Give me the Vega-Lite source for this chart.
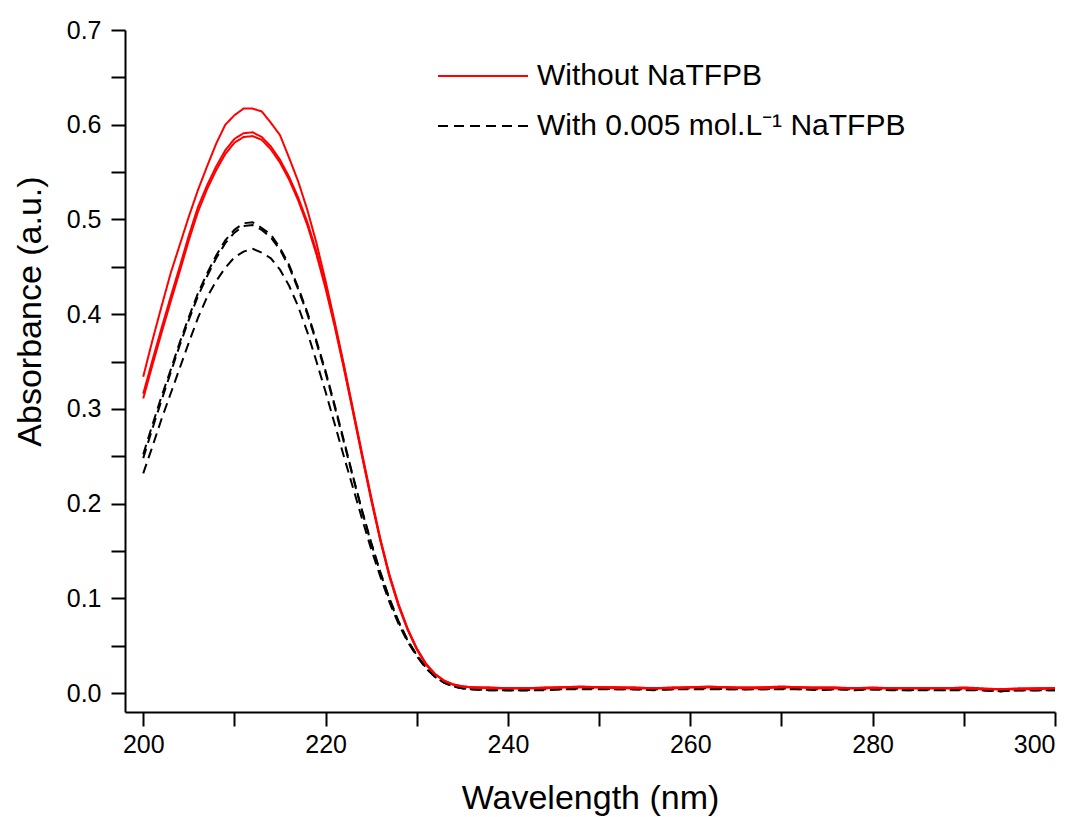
{
  "$schema": "https://vega.github.io/schema/vega-lite/v6.json",
  "width": 930,
  "height": 682,
  "autosize": {"type": "none"},
  "padding": {"left": 125, "top": 30, "right": 25, "bottom": 105},
  "background": "white",
  "config": {
    "view": {"stroke": null},
    "font": "Liberation Sans",
    "axis": {
      "grid": false,
      "domainColor": "black",
      "domainWidth": 2,
      "tickColor": "black",
      "tickWidth": 2,
      "tickSize": 14,
      "labelColor": "black",
      "labelFont": "Liberation Sans",
      "labelFontSize": 25,
      "titleFont": "Liberation Sans",
      "titleFontSize": 34,
      "titleFontWeight": "normal",
      "titleColor": "black"
    }
  },
  "datasets": {
    "groups": [
      {"series": "r1", "group": "Without NaTFPB"},
      {"series": "r2", "group": "Without NaTFPB"},
      {"series": "r3", "group": "Without NaTFPB"},
      {"series": "b1", "group": "With 0.005 mol.L⁻¹ NaTFPB"},
      {"series": "b2", "group": "With 0.005 mol.L⁻¹ NaTFPB"},
      {"series": "b3", "group": "With 0.005 mol.L⁻¹ NaTFPB"}
    ]
  },
  "data": {
    "values": [
      {"w": 200, "r1": 0.334, "r2": 0.316, "r3": 0.311, "b1": 0.252, "b2": 0.248, "b3": 0.232},
      {"w": 201, "r1": 0.372, "r2": 0.351, "r3": 0.346, "b1": 0.283, "b2": 0.279, "b3": 0.260},
      {"w": 202, "r1": 0.408, "r2": 0.385, "r3": 0.380, "b1": 0.313, "b2": 0.309, "b3": 0.289},
      {"w": 203, "r1": 0.443, "r2": 0.418, "r3": 0.413, "b1": 0.341, "b2": 0.338, "b3": 0.316},
      {"w": 204, "r1": 0.473, "r2": 0.450, "r3": 0.445, "b1": 0.370, "b2": 0.367, "b3": 0.343},
      {"w": 205, "r1": 0.503, "r2": 0.483, "r3": 0.478, "b1": 0.397, "b2": 0.394, "b3": 0.370},
      {"w": 206, "r1": 0.531, "r2": 0.513, "r3": 0.508, "b1": 0.422, "b2": 0.419, "b3": 0.396},
      {"w": 207, "r1": 0.556, "r2": 0.536, "r3": 0.532, "b1": 0.443, "b2": 0.440, "b3": 0.418},
      {"w": 208, "r1": 0.580, "r2": 0.556, "r3": 0.552, "b1": 0.462, "b2": 0.459, "b3": 0.435},
      {"w": 209, "r1": 0.600, "r2": 0.573, "r3": 0.569, "b1": 0.478, "b2": 0.475, "b3": 0.449},
      {"w": 210, "r1": 0.610, "r2": 0.585, "r3": 0.581, "b1": 0.489, "b2": 0.486, "b3": 0.460},
      {"w": 211, "r1": 0.617, "r2": 0.591, "r3": 0.587, "b1": 0.496, "b2": 0.493, "b3": 0.466},
      {"w": 212, "r1": 0.617, "r2": 0.592, "r3": 0.588, "b1": 0.497, "b2": 0.494, "b3": 0.469},
      {"w": 213, "r1": 0.614, "r2": 0.587, "r3": 0.584, "b1": 0.491, "b2": 0.489, "b3": 0.465},
      {"w": 214, "r1": 0.602, "r2": 0.577, "r3": 0.574, "b1": 0.484, "b2": 0.481, "b3": 0.459},
      {"w": 215, "r1": 0.589, "r2": 0.563, "r3": 0.560, "b1": 0.470, "b2": 0.468, "b3": 0.447},
      {"w": 216, "r1": 0.565, "r2": 0.545, "r3": 0.542, "b1": 0.452, "b2": 0.450, "b3": 0.430},
      {"w": 217, "r1": 0.540, "r2": 0.523, "r3": 0.520, "b1": 0.428, "b2": 0.426, "b3": 0.408},
      {"w": 218, "r1": 0.510, "r2": 0.497, "r3": 0.494, "b1": 0.402, "b2": 0.400, "b3": 0.381},
      {"w": 219, "r1": 0.475, "r2": 0.466, "r3": 0.463, "b1": 0.372, "b2": 0.370, "b3": 0.350},
      {"w": 220, "r1": 0.435, "r2": 0.430, "r3": 0.427, "b1": 0.340, "b2": 0.338, "b3": 0.318},
      {"w": 221, "r1": 0.392, "r2": 0.389, "r3": 0.387, "b1": 0.304, "b2": 0.302, "b3": 0.284},
      {"w": 222, "r1": 0.347, "r2": 0.345, "r3": 0.343, "b1": 0.267, "b2": 0.265, "b3": 0.250},
      {"w": 223, "r1": 0.300, "r2": 0.298, "r3": 0.297, "b1": 0.229, "b2": 0.228, "b3": 0.217},
      {"w": 224, "r1": 0.253, "r2": 0.251, "r3": 0.250, "b1": 0.193, "b2": 0.192, "b3": 0.184},
      {"w": 225, "r1": 0.207, "r2": 0.205, "r3": 0.204, "b1": 0.159, "b2": 0.158, "b3": 0.152},
      {"w": 226, "r1": 0.163, "r2": 0.162, "r3": 0.161, "b1": 0.128, "b2": 0.127, "b3": 0.123},
      {"w": 227, "r1": 0.125, "r2": 0.124, "r3": 0.123, "b1": 0.100, "b2": 0.099, "b3": 0.096},
      {"w": 228, "r1": 0.094, "r2": 0.093, "r3": 0.092, "b1": 0.076, "b2": 0.075, "b3": 0.073},
      {"w": 229, "r1": 0.068, "r2": 0.067, "r3": 0.067, "b1": 0.056, "b2": 0.055, "b3": 0.054},
      {"w": 230, "r1": 0.047, "r2": 0.047, "r3": 0.046, "b1": 0.040, "b2": 0.040, "b3": 0.039},
      {"w": 231, "r1": 0.031, "r2": 0.031, "r3": 0.030, "b1": 0.027, "b2": 0.027, "b3": 0.026},
      {"w": 232, "r1": 0.020, "r2": 0.020, "r3": 0.020, "b1": 0.018, "b2": 0.017, "b3": 0.017},
      {"w": 233, "r1": 0.013, "r2": 0.013, "r3": 0.013, "b1": 0.011, "b2": 0.011, "b3": 0.011},
      {"w": 234, "r1": 0.009, "r2": 0.009, "r3": 0.009, "b1": 0.007, "b2": 0.007, "b3": 0.007},
      {"w": 235, "r1": 0.007, "r2": 0.007, "r3": 0.007, "b1": 0.005, "b2": 0.005, "b3": 0.005},
      {"w": 236, "r1": 0.006, "r2": 0.006, "r3": 0.006, "b1": 0.004, "b2": 0.004, "b3": 0.004},
      {"w": 238, "r1": 0.006, "r2": 0.005, "r3": 0.005, "b1": 0.004, "b2": 0.003, "b3": 0.003},
      {"w": 240, "r1": 0.005, "r2": 0.005, "r3": 0.005, "b1": 0.003, "b2": 0.003, "b3": 0.003},
      {"w": 242, "r1": 0.005, "r2": 0.005, "r3": 0.005, "b1": 0.003, "b2": 0.003, "b3": 0.003},
      {"w": 244, "r1": 0.006, "r2": 0.005, "r3": 0.005, "b1": 0.004, "b2": 0.004, "b3": 0.003},
      {"w": 246, "r1": 0.006, "r2": 0.006, "r3": 0.006, "b1": 0.005, "b2": 0.004, "b3": 0.004},
      {"w": 248, "r1": 0.007, "r2": 0.006, "r3": 0.006, "b1": 0.005, "b2": 0.005, "b3": 0.004},
      {"w": 250, "r1": 0.006, "r2": 0.006, "r3": 0.006, "b1": 0.005, "b2": 0.005, "b3": 0.004},
      {"w": 252, "r1": 0.006, "r2": 0.006, "r3": 0.005, "b1": 0.005, "b2": 0.004, "b3": 0.004},
      {"w": 254, "r1": 0.006, "r2": 0.005, "r3": 0.005, "b1": 0.004, "b2": 0.004, "b3": 0.004},
      {"w": 256, "r1": 0.005, "r2": 0.005, "r3": 0.005, "b1": 0.004, "b2": 0.004, "b3": 0.003},
      {"w": 258, "r1": 0.006, "r2": 0.005, "r3": 0.005, "b1": 0.004, "b2": 0.004, "b3": 0.004},
      {"w": 260, "r1": 0.006, "r2": 0.006, "r3": 0.006, "b1": 0.005, "b2": 0.005, "b3": 0.004},
      {"w": 262, "r1": 0.007, "r2": 0.006, "r3": 0.006, "b1": 0.005, "b2": 0.005, "b3": 0.004},
      {"w": 264, "r1": 0.006, "r2": 0.006, "r3": 0.006, "b1": 0.005, "b2": 0.004, "b3": 0.004},
      {"w": 266, "r1": 0.006, "r2": 0.005, "r3": 0.005, "b1": 0.004, "b2": 0.004, "b3": 0.004},
      {"w": 268, "r1": 0.006, "r2": 0.006, "r3": 0.005, "b1": 0.005, "b2": 0.004, "b3": 0.004},
      {"w": 270, "r1": 0.007, "r2": 0.006, "r3": 0.006, "b1": 0.005, "b2": 0.005, "b3": 0.004},
      {"w": 272, "r1": 0.006, "r2": 0.006, "r3": 0.006, "b1": 0.005, "b2": 0.004, "b3": 0.004},
      {"w": 274, "r1": 0.006, "r2": 0.005, "r3": 0.005, "b1": 0.004, "b2": 0.004, "b3": 0.003},
      {"w": 276, "r1": 0.006, "r2": 0.005, "r3": 0.005, "b1": 0.004, "b2": 0.004, "b3": 0.004},
      {"w": 278, "r1": 0.005, "r2": 0.005, "r3": 0.005, "b1": 0.004, "b2": 0.004, "b3": 0.003},
      {"w": 280, "r1": 0.006, "r2": 0.005, "r3": 0.005, "b1": 0.004, "b2": 0.004, "b3": 0.004},
      {"w": 282, "r1": 0.005, "r2": 0.005, "r3": 0.005, "b1": 0.004, "b2": 0.004, "b3": 0.003},
      {"w": 284, "r1": 0.005, "r2": 0.005, "r3": 0.005, "b1": 0.004, "b2": 0.003, "b3": 0.003},
      {"w": 286, "r1": 0.005, "r2": 0.005, "r3": 0.005, "b1": 0.004, "b2": 0.004, "b3": 0.003},
      {"w": 288, "r1": 0.005, "r2": 0.005, "r3": 0.005, "b1": 0.004, "b2": 0.003, "b3": 0.003},
      {"w": 290, "r1": 0.006, "r2": 0.005, "r3": 0.005, "b1": 0.004, "b2": 0.004, "b3": 0.003},
      {"w": 292, "r1": 0.005, "r2": 0.004, "r3": 0.004, "b1": 0.003, "b2": 0.003, "b3": 0.003},
      {"w": 294, "r1": 0.004, "r2": 0.004, "r3": 0.004, "b1": 0.002, "b2": 0.002, "b3": 0.002},
      {"w": 296, "r1": 0.005, "r2": 0.004, "r3": 0.004, "b1": 0.003, "b2": 0.003, "b3": 0.003},
      {"w": 298, "r1": 0.005, "r2": 0.005, "r3": 0.004, "b1": 0.003, "b2": 0.003, "b3": 0.003},
      {"w": 300, "r1": 0.005, "r2": 0.005, "r3": 0.005, "b1": 0.004, "b2": 0.003, "b3": 0.003}
    ]
  },
  "transform": [
    {"fold": ["b1", "b2", "b3", "r1", "r2", "r3"], "as": ["series", "v"]},
    {"lookup": "series", "from": {"data": {"name": "groups"}, "key": "series", "fields": ["group"]}}
  ],
  "mark": {"type": "line", "strokeWidth": 2, "clip": true},
  "encoding": {
    "x": {
      "field": "w",
      "type": "quantitative",
      "scale": {"domain": [198, 300], "nice": false, "zero": false},
      "axis": {
        "title": "Wavelength (nm)",
        "values": [200, 210, 220, 230, 240, 250, 260, 270, 280, 290, 300],
        "labelExpr": "datum.value % 20 === 0 ? datum.label : ''",
        "encoding": {"ticks": {"update": {"y2": {"signal": "datum.value % 20 === 0 ? 14 : 8"}}}},
        "labelPadding": 6,
        "titlePadding": 24
      }
    },
    "y": {
      "field": "v",
      "type": "quantitative",
      "scale": {"domain": [-0.02, 0.7], "nice": false, "zero": false},
      "axis": {
        "title": "Absorbance (a.u.)",
        "values": [0, 0.05, 0.1, 0.15, 0.2, 0.25, 0.3, 0.35, 0.4, 0.45, 0.5, 0.55, 0.6, 0.65, 0.7],
        "format": ".1f",
        "labelExpr": "round(datum.value * 20) % 2 === 0 ? datum.label : ''",
        "encoding": {"ticks": {"update": {"x2": {"signal": "round(datum.value * 20) % 2 === 0 ? -14 : -8"}}}},
        "labelPadding": 10,
        "titleX": -95,
        "titleY": 281,
        "titleAngle": -90,
        "titleAlign": "center",
        "titleBaseline": "middle"
      }
    },
    "color": {
      "field": "group",
      "type": "nominal",
      "scale": {"domain": ["Without NaTFPB", "With 0.005 mol.L⁻¹ NaTFPB"], "range": ["#ff0000", "#000000"]},
      "legend": {
        "title": null,
        "orient": "none",
        "legendX": 312,
        "legendY": 26,
        "symbolType": "stroke",
        "symbolSize": 8100,
        "symbolStrokeWidth": 2,
        "labelFontSize": 30,
        "labelFont": "Liberation Sans",
        "labelColor": "black",
        "labelOffset": 8,
        "labelLimit": 0,
        "clipHeight": 40,
        "rowPadding": 10
      }
    },
    "strokeDash": {
      "field": "group",
      "type": "nominal",
      "scale": {"domain": ["Without NaTFPB", "With 0.005 mol.L⁻¹ NaTFPB"], "range": [[1, 0], [10, 6]]},
      "legend": {
        "title": null,
        "orient": "none",
        "legendX": 312,
        "legendY": 26,
        "symbolType": "stroke",
        "symbolSize": 8100,
        "symbolStrokeWidth": 2,
        "labelFontSize": 30,
        "labelFont": "Liberation Sans",
        "labelColor": "black",
        "labelOffset": 8,
        "labelLimit": 0,
        "clipHeight": 40,
        "rowPadding": 10
      }
    },
    "detail": {"field": "series"}
  }
}
